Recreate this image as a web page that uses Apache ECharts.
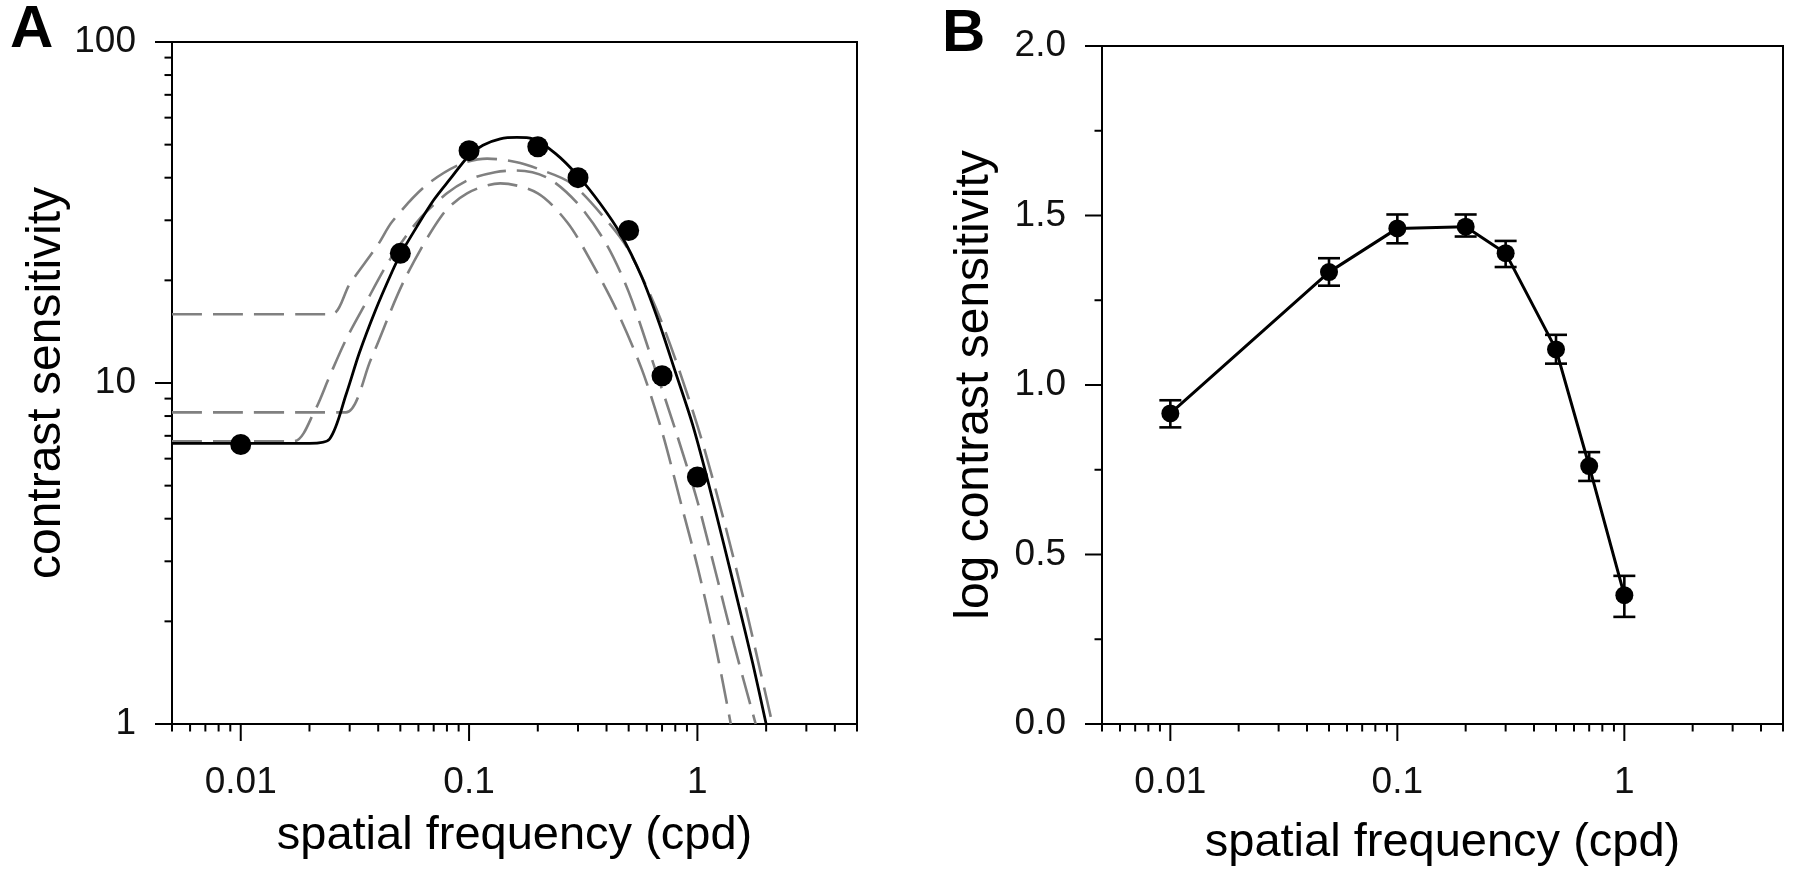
<!DOCTYPE html>
<html><head><meta charset="utf-8">
<script src="https://cdn.jsdelivr.net/npm/echarts@6/dist/echarts.min.js"></script>
<style>html,body{margin:0;padding:0;background:#fff}#c{width:1800px;height:872px}</style>
</head><body><div id="c"></div>
<script>
// ---- data ----
const freqs = [0.01, 0.05, 0.1, 0.2, 0.3, 0.5, 0.7, 1.0];
const sensA = [6.6, 24, 48, 49.3, 40, 28, 10.5, 5.3];

const fitBlackF = [0.005, 0.01, 0.015, 0.02, 0.0245, 0.029, 0.033, 0.039, 0.046, 0.05, 0.059, 0.07, 0.083, 0.1, 0.115, 0.137, 0.162, 0.19, 0.24, 0.3, 0.375, 0.46, 0.57, 0.68, 0.8, 0.95, 1.1, 1.3, 1.5, 1.75, 2.0];
const fitBlackS = [6.65, 6.65, 6.65, 6.65, 6.85, 9.3, 12.2, 16.4, 21.2, 23.8, 28.7, 34.4, 39.8, 46.5, 49.8, 52.0, 52.5, 52.0, 47.0, 40.5, 33.6, 27.4, 20.5, 15.0, 10.8, 7.6, 5.3, 3.4, 2.3, 1.5, 1.0];

const grayAF = [0.005, 0.01, 0.0249, 0.03, 0.04, 0.046, 0.064, 0.09, 0.12, 0.16, 0.2, 0.28, 0.4, 0.5, 0.7, 1.0, 1.3, 1.6, 1.9, 2.13];
const grayAS = [15.9, 15.9, 15.9, 19.5, 25.5, 29.7, 37.7, 43.6, 45.5, 44.5, 42.5, 38.5, 30, 24.5, 15, 7.5, 4.0, 2.3, 1.4, 1.0];

const grayBF = [0.005, 0.01, 0.0171, 0.0211, 0.0244, 0.0289, 0.035, 0.045, 0.06, 0.08, 0.1, 0.13, 0.16, 0.22, 0.3, 0.4, 0.5, 0.65, 0.8, 1.0, 1.2, 1.45, 1.8];
const grayBS = [6.75, 6.75, 6.75, 8.3, 10.4, 13.4, 17, 23, 30, 36, 39.5, 41.5, 42, 40, 33.5, 25.5, 18.5, 11.1, 7.3, 4.5, 2.8, 1.7, 1.0];

const grayCF = [0.005, 0.01, 0.02, 0.0289, 0.0371, 0.052, 0.076, 0.098, 0.137, 0.2, 0.27, 0.345, 0.44, 0.57, 0.7, 0.85, 1.0, 1.2, 1.4];
const grayCS = [8.2, 8.2, 8.2, 8.2, 11.7, 20, 31, 36, 38.5, 36, 29.5, 22.5, 16.5, 11, 7.2, 4.4, 2.9, 1.7, 1.0];

const logSensB = [0.916, 1.333, 1.462, 1.467, 1.389, 1.105, 0.761, 0.380];
const errLowB  = [0.875, 1.293, 1.418, 1.438, 1.348, 1.063, 0.717, 0.316];
const errHighB = [0.955, 1.374, 1.503, 1.503, 1.425, 1.148, 0.802, 0.437];

const xMajorTicks = [0.01, 0.1, 1];
const xTickLabels = ['0.01', '0.1', '1'];
const xMinorTicks = [0.005, 0.006, 0.007, 0.008, 0.009, 0.02, 0.03, 0.04, 0.05, 0.06, 0.07, 0.08, 0.09, 0.2, 0.3, 0.4, 0.5, 0.6, 0.7, 0.8, 0.9, 2, 3, 4, 5];
const yMajorTicksA = [1, 10, 100];
const yTickLabelsA = ['1', '10', '100'];
const yMinorTicksA = [2, 3, 4, 5, 6, 7, 8, 9, 20, 30, 40, 50, 60, 70, 80, 90];
const yMajorTicksB = [0, 0.5, 1.0, 1.5, 2.0];
const yTickLabelsB = ['0.0', '0.5', '1.0', '1.5', '2.0'];
const yMinorTicksB = [0.25, 0.75, 1.25, 1.75];

// ---- chart ----
const FONT = '"Liberation Sans", Arial, sans-serif';
const zip = (a, b) => a.map((v, i) => [v, b[i]]);
function labelFor(majors, labels) {
  return function (v) {
    for (let i = 0; i < majors.length; i++) {
      if (Math.abs(v - majors[i]) <= Math.abs(majors[i]) * 1e-6 + 1e-9) return labels[i];
    }
    return '';
  };
}
const MAJ = 17, MIN = 7.5;
function xTickSeries(gi, yBase) {
  const d = xMajorTicks.map(v => [v, yBase, MAJ]).concat(xMinorTicks.map(v => [v, yBase, MIN]));
  return {
    type: 'custom', xAxisIndex: gi, yAxisIndex: gi, data: d, clip: false, silent: true, z: 5,
    encode: { x: 0, y: 1 },
    renderItem: (p, api) => {
      const pt = api.coord([api.value(0), api.value(1)]);
      return { type: 'line', shape: { x1: pt[0], y1: pt[1], x2: pt[0], y2: pt[1] + api.value(2) }, style: { stroke: '#000', lineWidth: 2 } };
    }
  };
}
function yTickSeries(gi, xBase, majors, minors) {
  const d = majors.map(v => [xBase, v, MAJ]).concat(minors.map(v => [xBase, v, MIN]));
  return {
    type: 'custom', xAxisIndex: gi, yAxisIndex: gi, data: d, clip: false, silent: true, z: 5,
    encode: { x: 0, y: 1 },
    renderItem: (p, api) => {
      const pt = api.coord([api.value(0), api.value(1)]);
      return { type: 'line', shape: { x1: pt[0], y1: pt[1], x2: pt[0] - api.value(2), y2: pt[1] }, style: { stroke: '#000', lineWidth: 2 } };
    }
  };
}
const xNameStyle = { fontSize: 47, color: '#000', fontFamily: FONT };
const yNameStyle = { fontSize: 48, color: '#000', fontFamily: FONT };
const axisLabelStyle = { fontSize: 37, color: '#111', fontFamily: FONT };
const grayLine = { color: '#808080', width: 2.6, type: [30, 11] };
const SM = 0.3;

const option = {
  animation: false,
  backgroundColor: '#fff',
  graphic: [
    { type: 'text', left: 10, top: 0, style: { text: 'A', font: 'bold 60px ' + FONT, fill: '#000' } },
    { type: 'text', left: 942, top: 4, style: { text: 'B', font: 'bold 60px ' + FONT, fill: '#000' } }
  ],
  grid: [
    { left: 172, top: 42, width: 685, height: 682, show: true, borderColor: '#000', borderWidth: 2, backgroundColor: 'transparent' },
    { left: 1102, top: 46, width: 681, height: 683, show: true, borderColor: '#000', borderWidth: 2, backgroundColor: 'transparent' }
  ],
  xAxis: [
    { type: 'log', logBase: 10, gridIndex: 0, min: 0.005, max: 5,
      axisLine: { show: true, lineStyle: { color: '#000', width: 2 } }, axisTick: { show: false }, splitLine: { show: false },
      axisLabel: { show: true, margin: 40, formatter: labelFor(xMajorTicks, xTickLabels), ...axisLabelStyle, hideOverlap: false },
      name: 'spatial frequency (cpd)', nameLocation: 'middle', nameGap: 89, nameTextStyle: xNameStyle },
    { type: 'log', logBase: 10, gridIndex: 1, min: 0.005, max: 5,
      axisLine: { show: true, lineStyle: { color: '#000', width: 2 } }, axisTick: { show: false }, splitLine: { show: false },
      axisLabel: { show: true, margin: 40, formatter: labelFor(xMajorTicks, xTickLabels), ...axisLabelStyle, hideOverlap: false },
      name: 'spatial frequency (cpd)', nameLocation: 'middle', nameGap: 96, nameTextStyle: xNameStyle }
  ],
  yAxis: [
    { type: 'log', logBase: 10, gridIndex: 0, min: 1, max: 100,
      axisLine: { show: true, lineStyle: { color: '#000', width: 2 } }, axisTick: { show: false }, splitLine: { show: false },
      axisLabel: { show: true, margin: 36, formatter: labelFor(yMajorTicksA, yTickLabelsA), ...axisLabelStyle },
      name: 'contrast sensitivity', nameLocation: 'middle', nameGap: 99, nameTextStyle: yNameStyle },
    { type: 'value', gridIndex: 1, min: 0, max: 2, interval: 0.5,
      axisLine: { show: true, lineStyle: { color: '#000', width: 2 } }, axisTick: { show: false }, splitLine: { show: false },
      axisLabel: { show: true, margin: 36, formatter: labelFor(yMajorTicksB, yTickLabelsB), ...axisLabelStyle },
      name: 'log contrast sensitivity', nameLocation: 'middle', nameGap: 103, nameTextStyle: yNameStyle }
  ],
  series: [
    xTickSeries(0, 1), yTickSeries(0, 0.005, yMajorTicksA, yMinorTicksA),
    xTickSeries(1, 0), yTickSeries(1, 0.005, yMajorTicksB, yMinorTicksB),
    { type: 'line', xAxisIndex: 0, yAxisIndex: 0, data: zip(grayAF, grayAS), showSymbol: false, smooth: SM, lineStyle: grayLine, z: 2, silent: true },
    { type: 'line', xAxisIndex: 0, yAxisIndex: 0, data: zip(grayBF, grayBS), showSymbol: false, smooth: SM, lineStyle: grayLine, z: 2, silent: true },
    { type: 'line', xAxisIndex: 0, yAxisIndex: 0, data: zip(grayCF, grayCS), showSymbol: false, smooth: SM, lineStyle: grayLine, z: 2, silent: true },
    { type: 'line', xAxisIndex: 0, yAxisIndex: 0, data: zip(fitBlackF, fitBlackS), showSymbol: false, smooth: SM, lineStyle: { color: '#000', width: 2.8 }, z: 3, silent: true },
    { type: 'scatter', xAxisIndex: 0, yAxisIndex: 0, data: zip(freqs, sensA), symbol: 'circle', symbolSize: 21, itemStyle: { color: '#000', opacity: 1 }, z: 4, silent: true },
    { type: 'custom', xAxisIndex: 1, yAxisIndex: 1, data: freqs.map((f, i) => [f, errLowB[i], errHighB[i]]), encode: { x: 0, y: [1, 2] }, z: 4, silent: true,
      renderItem: (p, api) => {
        const a = api.coord([api.value(0), api.value(1)]);
        const b = api.coord([api.value(0), api.value(2)]);
        const w = 11, st = { stroke: '#000', lineWidth: 2.6 };
        return { type: 'group', children: [
          { type: 'line', shape: { x1: a[0], y1: a[1], x2: b[0], y2: b[1] }, style: st },
          { type: 'line', shape: { x1: a[0] - w, y1: a[1], x2: a[0] + w, y2: a[1] }, style: st },
          { type: 'line', shape: { x1: b[0] - w, y1: b[1], x2: b[0] + w, y2: b[1] }, style: st }
        ] };
      } },
    { type: 'line', xAxisIndex: 1, yAxisIndex: 1, data: zip(freqs, logSensB), symbol: 'circle', symbolSize: 18, showSymbol: true,
      itemStyle: { color: '#000', opacity: 1 }, lineStyle: { color: '#000', width: 3 }, z: 5, silent: true }
  ]
};
const chart = echarts.init(document.getElementById('c'), null, { renderer: 'canvas' });
chart.setOption(option);
</script></body></html>
